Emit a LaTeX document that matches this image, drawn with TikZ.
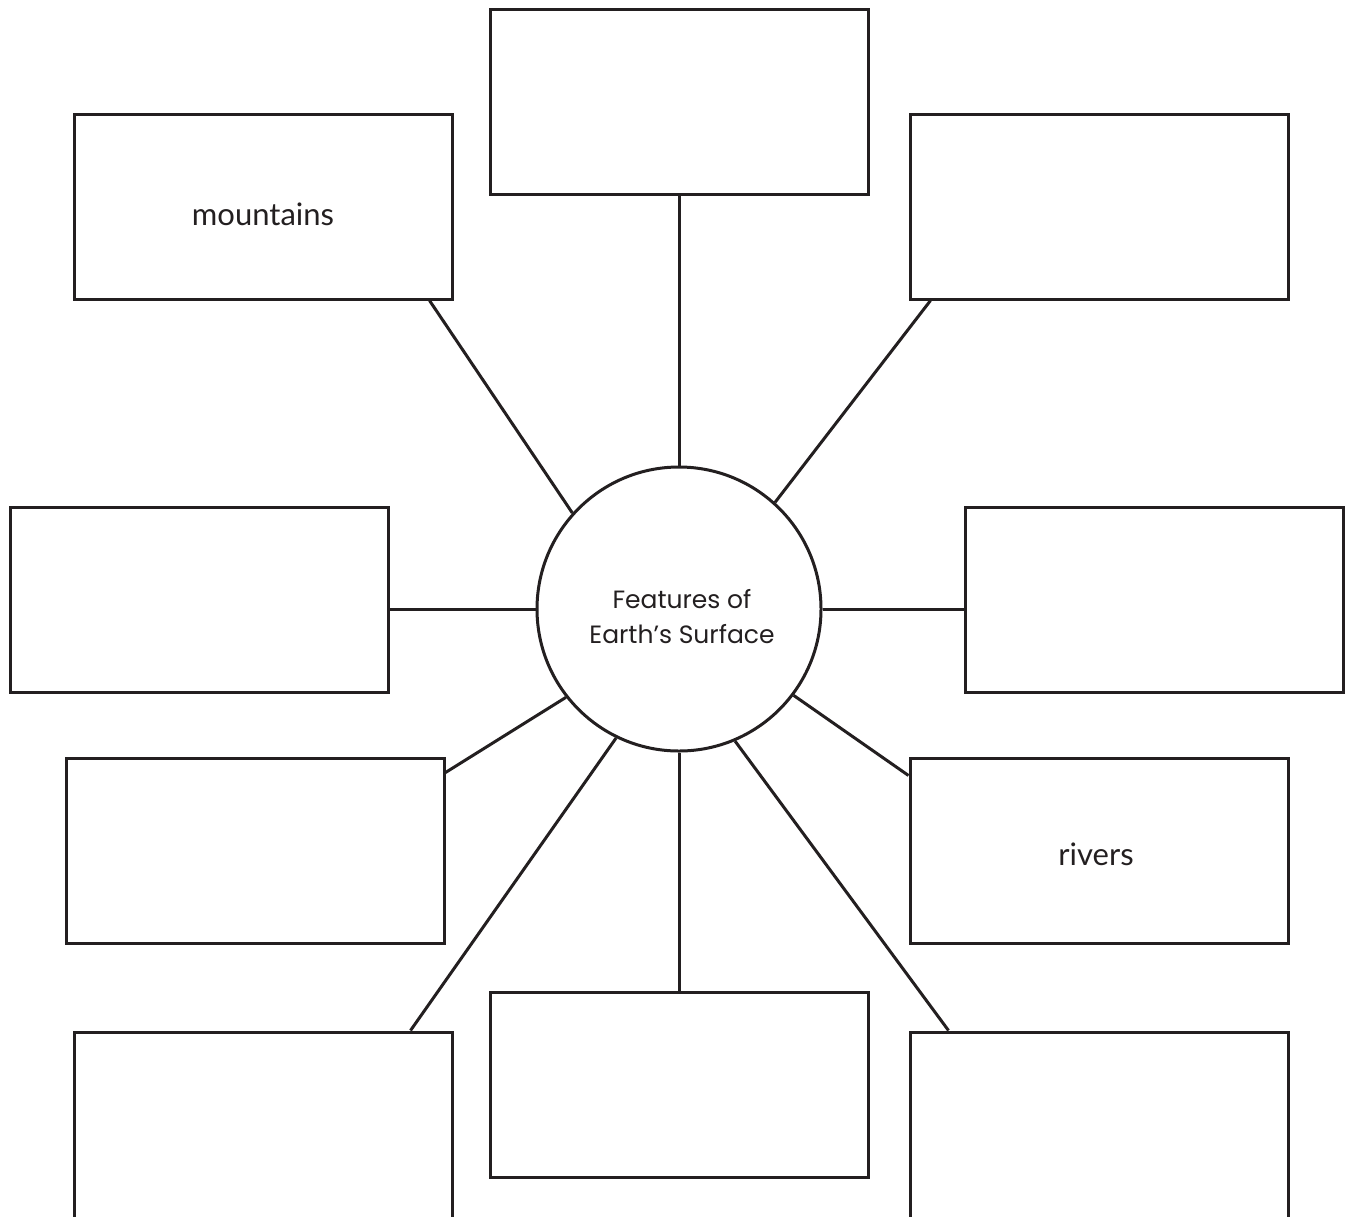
\documentclass[tikz,border=0pt]{standalone}
\usepackage{fontspec}
\newfontfamily\labelfont{Poppins}
\newfontfamily\handfont{Lato}
\definecolor{ink}{HTML}{231F20}
\begin{document}
\begin{tikzpicture}[x=1pt,y=-1pt,
  box/.style={draw=ink, line width=3pt, rectangle, minimum width=378pt, minimum height=185pt, inner sep=0pt},
  tallbox/.style={box, minimum height=200pt},
  hub/.style={draw=ink, line width=3pt, circle, minimum size=284pt, inner sep=0pt},
  hubtext/.style={align=center, inner sep=0pt, font=\labelfont\fontsize{25}{35}\selectfont, text=ink},
  hand/.style={font=\handfont\fontsize{31}{36}\selectfont, text=ink, inner sep=0pt, anchor=base},
  link/.style={draw=ink, line width=3pt}
]
\useasboundingbox (0,0) rectangle (1348,1216);
\clip (0,0) rectangle (1348,1216);

\node[hub] (c) at (679,609) {};
\node[hubtext] (ct) at ([yshift=-8pt,xshift=3pt]c.center) {Features of\\Earth’s Surface};

\node[box] (T)  at (679,101.5) {};
\node[box] (TL) at (263,206.5) {};
\node[box] (TR) at (1099,206.5) {};
\node[box] (L)  at (199,599.5) {};
\node[box] (R)  at (1154.5,599.5) {};
\node[box] (LL) at (255,850.5) {};
\node[box] (LR) at (1099,850.5) {};
\node[tallbox] (BL) at (263,1132) {};
\node[box] (B)  at (679,1084.5) {};
\node[tallbox] (BR) at (1099,1132) {};

\node[hand] (mt) at ([yshift=-18.5pt]TL.center) {mountains};
\node[hand] (rt) at ([yshift=-14.5pt,xshift=-3pt]LR.center) {rivers};

\draw[link] (T.south) -- (c.north);
\draw[link] ([xshift=-24pt]TL.south east) -- (c.138.7);
\draw[link] ([xshift=22pt]TR.south west) -- (c.48.7);
\draw[link] (c.west) -- (c.west -| L.east);
\draw[link] (c.east) -- (c.east -| R.west);
\draw[link] ([yshift=-16pt]LL.north east) -- (c.218.7);
\draw[link] ([yshift=-19pt]LR.north west) -- (c.323);
\draw[link] ([xshift=-43pt]BL.north east) -- (c.244.9);
\draw[link] ([xshift=40pt]BR.north west) -- (c.293.5);
\draw[link] (c.south) -- (B.north);
\end{tikzpicture}
\end{document}
